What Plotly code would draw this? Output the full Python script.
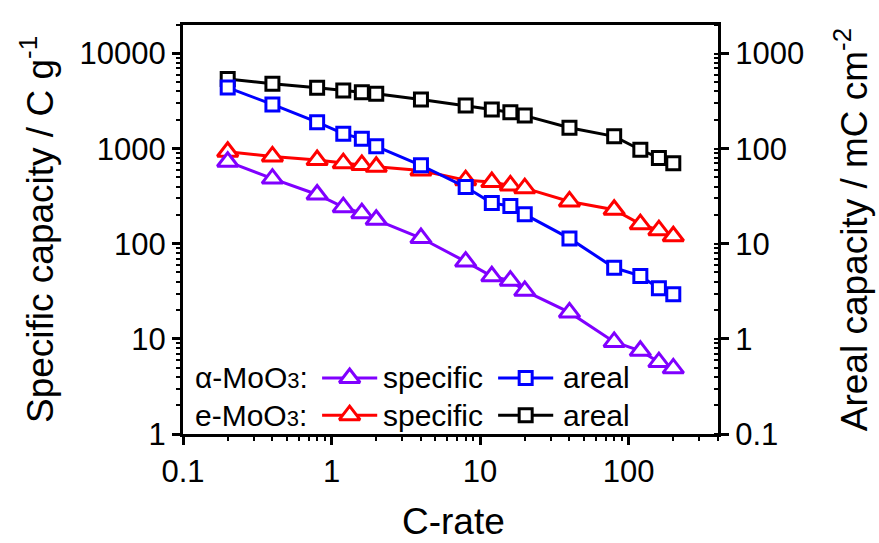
import math
import plotly.graph_objects as go

# ---- data ----
c_rate = [0.2, 0.4, 0.8, 1.2, 1.6, 2, 4, 8, 12, 16, 20, 40, 80, 120, 160, 200]
alpha_specific = [730, 485, 330, 243, 210, 179, 115, 65, 45.5, 41, 32, 19, 9.3, 7.5, 5.7, 4.9]
e_specific = [930, 830, 760, 705, 675, 645, 590, 467, 446, 411, 385, 279, 228, 161, 139, 120]
alpha_areal = [440, 292, 190, 144, 127, 106, 67, 39.5, 26.8, 25, 20.4, 11.4, 5.6, 4.6, 3.4, 2.95]
e_areal = [542, 481, 437, 409, 392, 378, 329, 285, 258, 242, 223, 166, 135, 97.5, 80, 70.5]

x_ticks = [0.1, 1, 10, 100]
x_ticktext = ["0.1", "1", "10", "100"]
y_ticks = [1, 10, 100, 1000, 10000]
y_ticktext = ["1", "10", "100", "1000", "10000"]
y2_ticks = [0.1, 1, 10, 100, 1000]
y2_ticktext = ["0.1", "1", "10", "100", "1000"]

PURPLE = "#8000FF"
BLUE = "#0000FF"
RED = "#FF0000"
BLACK = "#000000"
FONT = "Liberation Sans, Arial, sans-serif"

fig = go.Figure()

def add_series(y, color, symbol, size, axis):
    fig.add_trace(go.Scatter(
        x=c_rate, y=y, mode="lines+markers", yaxis=axis,
        line=dict(color=color, width=3),
        marker=dict(symbol=symbol, size=size, color="white",
                    line=dict(color=color, width=3)),
        showlegend=False, cliponaxis=False))

add_series(e_areal, BLACK, "square", 13, "y2")
add_series(alpha_areal, BLUE, "square", 13, "y2")
add_series(e_specific, RED, "triangle-up", 18, "y")
add_series(alpha_specific, PURPLE, "triangle-up", 18, "y")

# ---- custom legend (paper-fraction positions on a hidden overlay axis) ----
legend_rows = [0.137, 0.046]
legend_line_spans = [(0.260, 0.363), (0.589, 0.692)]
legend_entries = [
    (0, 0, PURPLE, "triangle-up", 18),
    (0, 1, BLUE, "square", 13),
    (1, 0, RED, "triangle-up", 18),
    (1, 1, BLACK, "square", 13),
]
for row, col, color, symbol, size in legend_entries:
    x0, x1 = legend_line_spans[col]
    yy = legend_rows[row]
    fig.add_trace(go.Scatter(x=[x0, x1], y=[yy, yy], mode="lines",
                             xaxis="x3", yaxis="y3",
                             line=dict(color=color, width=3),
                             showlegend=False, hoverinfo="skip"))
    fig.add_trace(go.Scatter(x=[(x0 + x1) / 2], y=[yy], mode="markers",
                             xaxis="x3", yaxis="y3",
                             marker=dict(symbol=symbol, size=size, color="white",
                                         line=dict(color=color, width=3)),
                             showlegend=False, hoverinfo="skip"))

legend_texts = [
    (0.0187, 0, "α-MoO<span style='font-size:22px'>3</span>:"),
    (0.0187, 1, "e-MoO<span style='font-size:22px'>3</span>:"),
    (0.371, 0, "specific"),
    (0.371, 1, "specific"),
    (0.707, 0, "areal"),
    (0.707, 1, "areal"),
]
annotations = []
for x, row, txt in legend_texts:
    annotations.append(dict(x=x, y=legend_rows[row], xref="paper", yref="paper",
                            text=txt, showarrow=False, xanchor="left", yanchor="middle",
                            font=dict(family=FONT, size=30, color="black")))

# axis titles
annotations.append(dict(x=-0.272, y=0.5, xref="paper", yref="paper",
                        text="Specific capacity / C g<sup>-1</sup>", textangle=-90,
                        showarrow=False, xanchor="center", yanchor="middle",
                        font=dict(family=FONT, size=37, color="black")))
annotations.append(dict(x=1.25, y=0.5, xref="paper", yref="paper",
                        text="Areal capacity / mC cm<sup>-2</sup>", textangle=-90,
                        showarrow=False, xanchor="center", yanchor="middle",
                        font=dict(family=FONT, size=37, color="black")))
annotations.append(dict(x=0.505, y=-0.215, xref="paper", yref="paper",
                        text="C-rate", showarrow=False, xanchor="center", yanchor="middle",
                        font=dict(family=FONT, size=37, color="black")))

tickfont = dict(family=FONT, size=31, color="black")
axis_common = dict(type="log", showline=True, linewidth=3, linecolor="black",
                   ticks="outside", ticklen=8, tickwidth=3, tickcolor="black",
                   tickmode="array", showgrid=False,
                   zeroline=False, tickfont=tickfont)

def minor(direction):
    return dict(ticks=direction, ticklen=4, tickwidth=2, dtick="D1",
                tickcolor="black", showgrid=False)

fig.update_layout(
    width=879, height=543, autosize=False,
    margin=dict(l=183, r=161, t=25, b=109),
    paper_bgcolor="white", plot_bgcolor="white",
    showlegend=False,
    xaxis=dict(**axis_common, range=[-1, math.log10(400)], mirror=True,
               tickvals=x_ticks, ticktext=x_ticktext, minor=minor("outside")),
    yaxis=dict(**axis_common, range=[0, math.log10(20000)],
               tickvals=y_ticks, ticktext=y_ticktext, minor=minor("outside")),
    yaxis2=dict(**axis_common, range=[-1, math.log10(2000)], overlaying="y", side="right",
                tickvals=y2_ticks, ticktext=y2_ticktext, minor=minor("inside")),
    xaxis3=dict(range=[0, 1], visible=False, overlaying="x", fixedrange=True),
    yaxis3=dict(range=[0, 1], visible=False, overlaying="y", fixedrange=True),
    annotations=annotations,
)

fig.write_html("out.html")
